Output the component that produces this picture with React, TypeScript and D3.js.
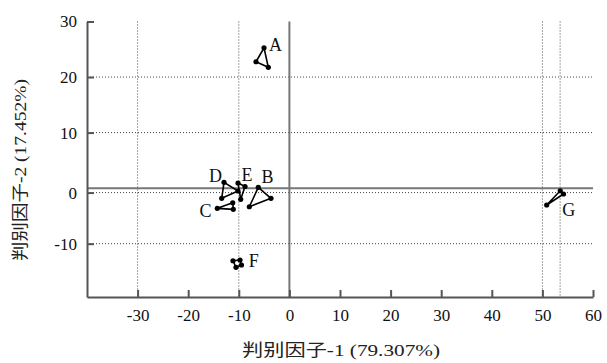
import React from "react";
import * as d3 from "d3";

// group outlines (discriminant scores)
const groupA = [[-5.02, 25.27], [-6.6, 22.75], [-4.17, 21.75]];
const groupB = [[-6.15, 0.14], [-3.64, -1.84], [-7.92, -3.35]];
const groupC = [[-14.25, -3.64], [-11.2, -2.63], [-11.09, -3.82]];
const groupD = [[-12.92, 1.04], [-13.38, -1.84], [-10.16, -0.52]];
const groupE = [[-10.16, 0.92], [-8.77, 0.29], [-9.62, -2.02]];
const groupF = [[-11.15, -13.07], [-9.76, -12.94], [-9.47, -13.84], [-10.55, -14.26]];
const groupG = [[53.53, -0.47], [54.17, -1.06], [50.85, -3.04]];

const groupNames = ["A", "B", "C", "D", "E", "F", "G"];
// where each letter sits, in data units
const labelX = [-2.77, -4.35, -16.6, -14.6, -8.4, -7.05, 55.2];
const labelY = [25.9, 2.1, -4.1, 2.25, 2.35, -13.1, -3.8];

const xTicks = [-30, -20, -10, 0, 10, 20, 30, 40, 50, 60];
const yTicks = [30, 20, 10, -0.8, -10];
const xGrid = [-30, -10, 50, 53.5];
const yGrid = [20, 10, -0.8, -10];

const xTitle = "判别因子-1 (79.307%)";
const yTitle = "判别因子-2 (17.452%)";

const W = 607;
const H = 363;

const App = () => {
  const svgRef = React.useRef<SVGSVGElement>(null);

  React.useEffect(() => {
    const groups = [groupA, groupB, groupC, groupD, groupE, groupF, groupG];
    const x = d3.scaleLinear().domain([-40, 60]).range([87, 593]);
    const y = d3.scaleLinear().domain([-19.6, 30]).range([297, 21.5]);

    const svg = d3.select(svgRef.current);
    svg.selectAll("*").remove();

    const serif = "'Liberation Serif', 'DejaVu Serif', serif";
    const cjk = "'Liberation Serif', 'Noto Sans CJK SC', serif";

    // dotted grid
    svg
      .append("g")
      .selectAll("line")
      .data(yGrid)
      .join("line")
      .attr("x1", x(-40))
      .attr("x2", x(60))
      .attr("y1", (d) => y(d))
      .attr("y2", (d) => y(d))
      .attr("stroke", "#444")
      .attr("stroke-width", 1)
      .attr("stroke-dasharray", "1,2");
    svg
      .append("g")
      .selectAll("line")
      .data(xGrid)
      .join("line")
      .attr("x1", (d) => x(d))
      .attr("x2", (d) => x(d))
      .attr("y1", y(30))
      .attr("y2", y(-19.6))
      .attr("stroke", "#444")
      .attr("stroke-width", 1)
      .attr("stroke-dasharray", "1,2");

    // zero lines
    svg
      .append("line")
      .attr("x1", x(-40))
      .attr("x2", x(60))
      .attr("y1", y(0))
      .attr("y2", y(0))
      .attr("stroke", "#777")
      .attr("stroke-width", 2);
    svg
      .append("line")
      .attr("x1", x(0))
      .attr("x2", x(0))
      .attr("y1", y(30))
      .attr("y2", y(-19.6))
      .attr("stroke", "#777")
      .attr("stroke-width", 2);

    // axes
    const yAxis = d3
      .axisLeft(y)
      .tickValues(yTicks)
      .tickSizeInner(-7)
      .tickSizeOuter(0)
      .tickPadding(10)
      .tickFormat((d) => (d === -0.8 ? "0" : String(d)));
    const yg = svg.append("g").attr("transform", `translate(${x(-40)},0)`).call(yAxis);

    const xAxis = d3
      .axisBottom(x)
      .tickValues(xTicks)
      .tickSizeInner(-7)
      .tickSizeOuter(0)
      .tickPadding(12)
      .tickFormat((d) => String(d));
    const xg = svg.append("g").attr("transform", `translate(0,${y(-19.6)})`).call(xAxis);

    [yg, xg].forEach((g) => {
      g.select(".domain").attr("stroke", "#555").attr("stroke-width", 2);
      g.selectAll(".tick line").attr("stroke", "#555").attr("stroke-width", 2);
      g.selectAll(".tick text")
        .attr("fill", "#111")
        .attr("font-family", serif)
        .attr("font-size", 17);
    });
    xg.selectAll(".tick text").attr("dy", "0.71em");

    // groups
    const line = d3
      .line<number[]>()
      .x((d) => x(d[0]))
      .y((d) => y(d[1]))
      .curve(d3.curveLinearClosed);

    const gg = svg.append("g");
    groups.forEach((pts) => {
      gg.append("path")
        .attr("d", line(pts))
        .attr("fill", "none")
        .attr("stroke", "#000")
        .attr("stroke-width", 1.6)
        .attr("stroke-linejoin", "round");
      gg.selectAll(null)
        .data(pts)
        .join("circle")
        .attr("cx", (d) => x(d[0]))
        .attr("cy", (d) => y(d[1]))
        .attr("r", 2.6)
        .attr("fill", "#000");
    });

    svg
      .append("g")
      .selectAll("text")
      .data(groupNames)
      .join("text")
      .attr("x", (d, i) => x(labelX[i]))
      .attr("y", (d, i) => y(labelY[i]))
      .attr("dy", "0.35em")
      .attr("text-anchor", "middle")
      .attr("font-family", serif)
      .attr("font-size", 18)
      .attr("fill", "#111")
      .text((d) => d);

    // titles
    svg
      .append("text")
      .attr("x", 341)
      .attr("y", 350)
      .attr("dy", "0.35em")
      .attr("text-anchor", "middle")
      .attr("font-family", cjk)
      .attr("font-size", 17)
      .attr("fill", "#222")
      .attr("textLength", 198)
      .attr("lengthAdjust", "spacingAndGlyphs")
      .text(xTitle);
    svg
      .append("text")
      .attr("transform", "translate(20,170) rotate(-90)")
      .attr("dy", "0.35em")
      .attr("text-anchor", "middle")
      .attr("font-family", cjk)
      .attr("font-size", 17)
      .attr("fill", "#222")
      .attr("textLength", 182)
      .attr("lengthAdjust", "spacingAndGlyphs")
      .text(yTitle);
  }, []);

  return (
    <svg
      ref={svgRef}
      width={W}
      height={H}
      style={{ position: "absolute", left: 0, top: 0, background: "#fff" }}
    />
  );
};

export default App;
